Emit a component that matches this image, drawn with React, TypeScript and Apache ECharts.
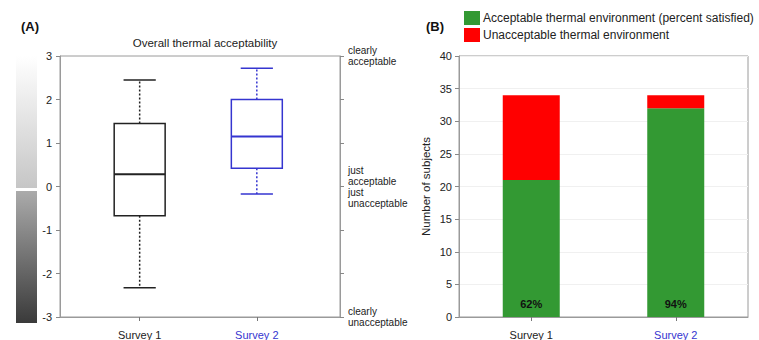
import React, { useEffect, useRef } from "react";
import * as echarts from "echarts";

const categories = ["Survey 1", "Survey 2"];
// [lower whisker, Q1, median, Q3, upper whisker]
const survey1Box = [-2.33, -0.67, 0.28, 1.45, 2.45];
const survey2Box = [-0.17, 0.42, 1.15, 2.0, 2.72];
const boxColors = ["#222222", "#3535d0"];
const scaleTicks = [-3, -2, -1, 0, 1, 2, 3];
const scaleLabelValues = [3, 0.25, -0.27, -3];
const scaleLabelTexts = ["clearly\nacceptable", "just\nacceptable", "just\nunacceptable", "clearly\nunacceptable"];

const acceptable = [21, 32];
const unacceptable = [13, 2];
const countTicks = [0, 5, 10, 15, 20, 25, 30, 35, 40];

const FONT = "Arial, 'Liberation Sans', sans-serif";

export default function App() {
  const ref = useRef<HTMLDivElement>(null);
  useEffect(() => {
    if (!ref.current) return;
    const chart = echarts.init(ref.current, null, { renderer: "svg" });
    const boxData = [survey1Box, survey2Box].map((b, i) => [i + 1, ...b]);
    const option: any = {
      animation: false,
      textStyle: { fontFamily: FONT },
      title: [
        { text: "(A)", left: 16, top: 15, textStyle: { fontSize: 13, fontWeight: "bold", color: "#111", fontFamily: FONT } },
        { text: "Overall thermal acceptability", left: 200, top: 32, textAlign: "center", textStyle: { fontSize: 11.5, fontWeight: "normal", color: "#222", fontFamily: FONT } },
        { text: "(B)", left: 421, top: 15, textStyle: { fontSize: 13, fontWeight: "bold", color: "#111", fontFamily: FONT } },
      ],
      legend: {
        orient: "vertical",
        left: 459,
        top: 6,
        itemWidth: 16,
        itemHeight: 14,
        itemGap: 3,
        icon: "rect",
        textStyle: { fontSize: 12, color: "#222", fontFamily: FONT, padding: [0, 0, 0, -2] },
        data: ["Acceptable thermal environment (percent satisfied)", "Unacceptable thermal environment"],
      },
      graphic: [
        {
          type: "rect",
          shape: { x: 16, y: 56, width: 21, height: 132 },
          style: {
            fill: new echarts.graphic.LinearGradient(0, 0, 0, 1, [
              { offset: 0, color: "#ffffff" },
              { offset: 1, color: "#c6c6c6" },
            ]),
          },
        },
        {
          type: "rect",
          shape: { x: 16, y: 191, width: 21, height: 132 },
          style: {
            fill: new echarts.graphic.LinearGradient(0, 0, 0, 1, [
              { offset: 0, color: "#ababab" },
              { offset: 1, color: "#3a3a3a" },
            ]),
          },
        },
      ],
      grid: [
        { left: 60, top: 56, width: 280, height: 267, show: true, borderColor: "#9a9a9a", borderWidth: 1 },
        { left: 459, top: 56, width: 289, height: 267, show: true, borderColor: "#9a9a9a", borderWidth: 1 },
      ],
      xAxis: [
        {
          type: "value",
          gridIndex: 0,
          min: 0.32,
          max: 2.71,
          axisLine: { show: true, onZero: false, lineStyle: { color: "#9a9a9a" } },
          axisTick: { show: true, customValues: [1, 2], length: 4, lineStyle: { color: "#777" } },
          splitLine: { show: false },
          axisLabel: {
            customValues: [1, 2],
            margin: 12,
            fontSize: 11,
            color: "#222",
            fontFamily: FONT,
            formatter: (v: number) => {
              const i = Math.round(v) - 1;
              return i === 1 ? `{b|${categories[1]}}` : categories[0];
            },
            rich: { b: { color: "#3535d0", fontSize: 11, fontFamily: FONT } },
          },
        },
        {
          type: "category",
          gridIndex: 1,
          data: categories,
          axisLine: { show: true, onZero: false, lineStyle: { color: "#9a9a9a" } },
          axisTick: { show: true, alignWithLabel: true, length: 4, lineStyle: { color: "#777" } },
          axisLabel: {
            margin: 12,
            fontSize: 11,
            color: "#222",
            fontFamily: FONT,
            formatter: (v: string) => (v === categories[1] ? `{b|${v}}` : v),
            rich: { b: { color: "#3535d0", fontSize: 11, fontFamily: FONT } },
          },
        },
      ],
      yAxis: [
        {
          type: "value",
          gridIndex: 0,
          min: -3,
          max: 3,
          interval: 1,
          axisLine: { show: true, onZero: false, lineStyle: { color: "#9a9a9a" } },
          axisTick: { show: true, length: 4, lineStyle: { color: "#888" } },
          splitLine: { show: false },
          axisLabel: { fontSize: 11, color: "#222", margin: 8, fontFamily: FONT },
        },
        {
          type: "value",
          gridIndex: 0,
          position: "right",
          min: -3,
          max: 3,
          interval: 1,
          axisLine: { show: true, onZero: false, lineStyle: { color: "#9a9a9a" } },
          axisTick: { show: true, customValues: scaleTicks, length: 4, lineStyle: { color: "#888" } },
          splitLine: { show: false },
          axisLabel: {
            customValues: scaleLabelValues,
            fontSize: 10,
            lineHeight: 11,
            color: "#222",
            margin: 8,
            fontFamily: FONT,
            formatter: (v: number) => {
              const i = scaleLabelValues.findIndex((x) => Math.abs(x - v) < 1e-6);
              return i >= 0 ? scaleLabelTexts[i] : "";
            },
          },
        },
        {
          type: "value",
          gridIndex: 1,
          min: countTicks[0],
          max: countTicks[countTicks.length - 1],
          interval: 5,
          name: "Number of subjects",
          nameLocation: "middle",
          nameGap: 27,
          nameTextStyle: { fontSize: 11.5, color: "#222", fontFamily: FONT },
          axisLine: { show: true, lineStyle: { color: "#9a9a9a" } },
          axisTick: { show: true, length: 4, lineStyle: { color: "#888" } },
          splitLine: { show: true, lineStyle: { color: "#f0f0f0" } },
          axisLabel: { fontSize: 11, color: "#222", margin: 7, fontFamily: FONT },
        },
      ],
      series: [
        {
          type: "custom",
          xAxisIndex: 0,
          yAxisIndex: 0,
          encode: { x: 0, y: [1, 2, 3, 4, 5] },
          data: boxData,
          renderItem: (params: any, api: any) => {
            const x = api.value(0);
            const lo = api.value(1), q1 = api.value(2), med = api.value(3), q3 = api.value(4), hi = api.value(5);
            const color = boxColors[params.dataIndex];
            const halfW = api.size([0.435, 0])[0] / 2;
            const capHalf = api.size([0.275, 0])[0] / 2;
            const pLo = api.coord([x, lo]);
            const pQ1 = api.coord([x, q1]);
            const pMed = api.coord([x, med]);
            const pQ3 = api.coord([x, q3]);
            const pHi = api.coord([x, hi]);
            const cx = pMed[0];
            const solid = { stroke: color, lineWidth: 1.5, fill: null };
            const dashed = { stroke: color, lineWidth: 1.5, lineDash: [2, 2], fill: null };
            return {
              type: "group",
              children: [
                { type: "line", shape: { x1: cx, y1: pQ3[1], x2: cx, y2: pHi[1] }, style: dashed },
                { type: "line", shape: { x1: cx, y1: pQ1[1], x2: cx, y2: pLo[1] }, style: dashed },
                { type: "line", shape: { x1: cx - capHalf, y1: pHi[1], x2: cx + capHalf, y2: pHi[1] }, style: solid },
                { type: "line", shape: { x1: cx - capHalf, y1: pLo[1], x2: cx + capHalf, y2: pLo[1] }, style: solid },
                { type: "rect", shape: { x: cx - halfW, y: pQ3[1], width: halfW * 2, height: pQ1[1] - pQ3[1] }, style: { stroke: color, lineWidth: 1.5, fill: "rgba(255,255,255,0)" } },
                { type: "line", shape: { x1: cx - halfW, y1: pMed[1], x2: cx + halfW, y2: pMed[1] }, style: { stroke: color, lineWidth: 2 } },
              ],
            };
          },
        },
        {
          name: "Acceptable thermal environment (percent satisfied)",
          type: "bar",
          stack: "total",
          xAxisIndex: 1,
          yAxisIndex: 2,
          barWidth: 57,
          data: acceptable,
          itemStyle: { color: "#339933" },
          label: {
            show: true,
            position: "insideBottom",
            distance: 8,
            fontSize: 11,
            fontWeight: "bold",
            color: "#111",
            fontFamily: FONT,
            formatter: (p: any) => {
              const i = p.dataIndex;
              return Math.round((acceptable[i] / (acceptable[i] + unacceptable[i])) * 100) + "%";
            },
          },
        },
        {
          name: "Unacceptable thermal environment",
          type: "bar",
          stack: "total",
          xAxisIndex: 1,
          yAxisIndex: 2,
          barWidth: 57,
          data: unacceptable,
          itemStyle: { color: "#ff0000" },
        },
      ],
    };
    chart.setOption(option);
    return () => chart.dispose();
  }, []);
  return (
    <div
      ref={ref}
      style={{ position: "absolute", left: 0, top: 0, width: 759, height: 340, background: "#fff" }}
    />
  );
}
